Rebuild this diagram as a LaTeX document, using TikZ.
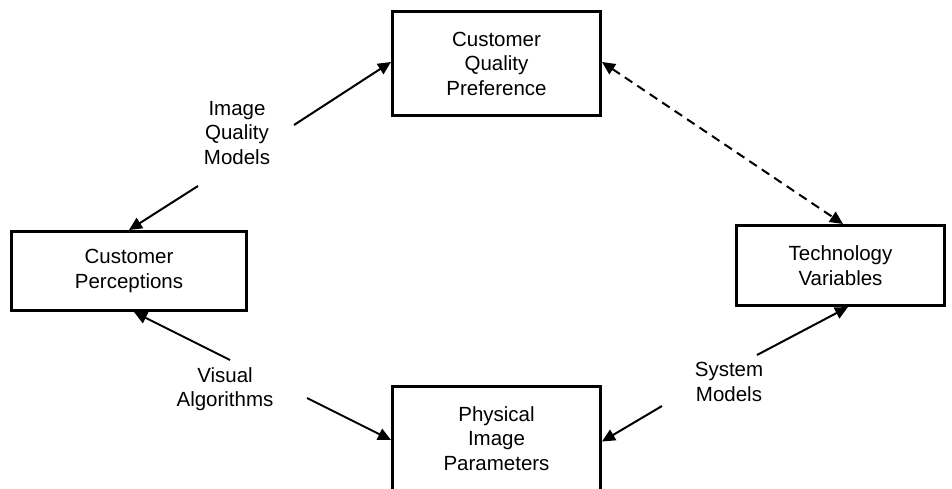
\documentclass[tikz,border=0pt]{standalone}
\usepackage{fontspec}
\setmainfont{Liberation Sans}
\usetikzlibrary{arrows.meta}
\begin{document}
\begin{tikzpicture}[x=1pt,y=-1pt,
  box/.style={draw, line width=3pt, align=center, inner sep=0pt,
    font=\fontsize{20.5}{24.5}\selectfont},
  lbl/.style={align=center, inner sep=0pt, font=\fontsize{20.5}{24.5}\selectfont},
  conn/.style={line width=2pt, -{Triangle[length=13pt,width=12pt]}},
  dconn/.style={line width=2pt, dash pattern=on 9pt off 6pt,
    {Triangle[length=13pt,width=12pt]}-{Triangle[length=13pt,width=12pt]}}]
\useasboundingbox (0,0) rectangle (952,489);
\clip (0,0) rectangle (952,489);
\node[box, minimum width=208pt, minimum height=104pt] (cqp) at (496.5,63.5) {Customer\\Quality\\Preference};
\node[box, minimum width=235pt, minimum height=79pt] (cp) at (129,271) {Customer\\Perceptions};
\node[box, minimum width=208pt, minimum height=80pt] (tv) at (840.5,265.5) {Technology\\Variables};
\node[box, minimum width=208pt, minimum height=104pt] (pip) at (496.5,438.5) {Physical\\Image\\Parameters};
\node[lbl] (iqm) at (237,133) {Image\\Quality\\Models};
\node[lbl] (va) at (225,389) {Visual\\Algorithms};
\node[lbl] (sm) at (729,382) {System\\Models};
\coordinate (iqmA) at (294,125);
\coordinate (iqmB) at (198,186);
\coordinate (vaA) at (230,360);
\coordinate (vaB) at (307,398);
\coordinate (smA) at (757,355);
\coordinate (smB) at (662,406);
\draw[conn] (iqmA) -- ([yshift=1.5pt]cqp.west);
\draw[conn] (iqmB) -- (cp.north);
\draw[conn] (vaA) -- ([xshift=5pt]cp.south);
\draw[conn] (vaB) -- ([yshift=-1.5pt]pip.west);
\draw[conn] (smA) -- ([xshift=7.5pt]tv.south);
\draw[conn] (smB) -- ([yshift=-3pt]pip.east);
\draw[dconn] ([yshift=1.5pt]cqp.east) -- ([xshift=2.5pt]tv.north);
\end{tikzpicture}
\end{document}
